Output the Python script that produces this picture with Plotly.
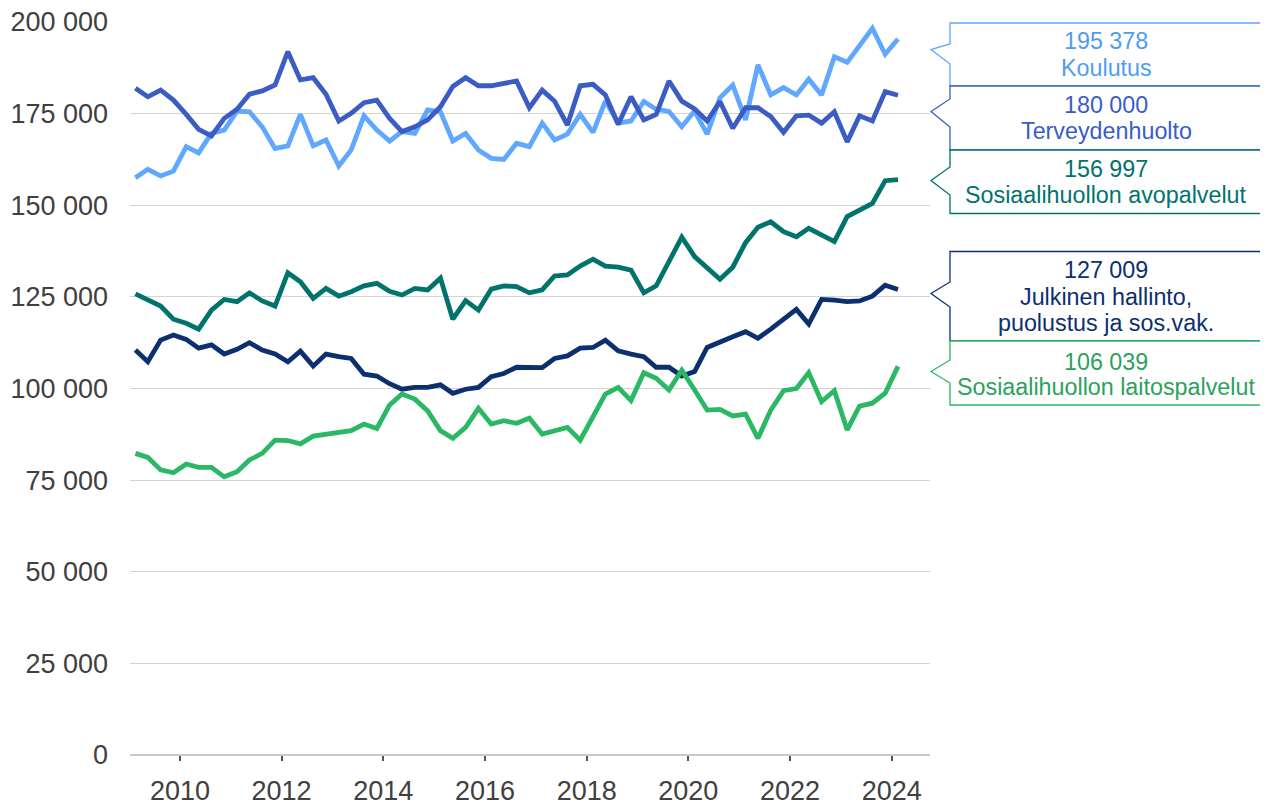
import plotly.graph_objects as go

# ---- Data (thousands of persons), quarterly 2009Q1 .. 2024Q1 ----
years = [y for y in range(2009, 2025) for _ in range(4)][:61]
quarters = [q for _ in range(2009, 2025) for q in (1, 2, 3, 4)][:61]

koulutus = [157.5, 159.8, 158.0, 159.3, 166.0, 164.3, 169.6, 170.5, 175.7, 175.5,
            171.4, 165.5, 166.2, 174.8, 166.2, 167.8, 160.7, 165.1, 174.4, 170.5,
            167.5, 170.1, 169.6, 176.0, 175.5, 167.5, 169.6, 165.1, 162.8, 162.5,
            166.9, 166.0, 172.4, 167.8, 169.4, 174.8, 169.9, 178.4, 172.4, 173.0,
            178.3, 176.2, 175.6, 171.4, 175.7, 169.4, 179.3, 182.8, 173.3, 188.3,
            180.1, 182.1, 180.1, 184.4, 180.1, 190.5, 189.0, 193.5, 198.3, 191.2,
            195.378]
terveys = [181.9, 179.6, 181.4, 178.7, 174.8, 170.7, 168.9, 173.7, 176.2, 180.3,
           181.2, 182.8, 191.9, 184.2, 184.8, 180.3, 173.0, 175.1, 178.0, 178.7,
           173.7, 170.1, 171.4, 173.3, 176.9, 182.4, 184.8, 182.6, 182.6, 183.4,
           183.9, 176.6, 181.4, 178.4, 171.9, 182.6, 183.0, 180.1, 172.1, 179.6,
           173.3, 174.8, 183.9, 178.4, 176.3, 173.0, 178.3, 171.0, 176.6, 176.6,
           174.2, 169.9, 174.4, 174.6, 172.4, 175.5, 167.3, 174.4, 173.0, 181.0,
           180.000]
avo = [125.8, 124.1, 122.5, 118.9, 117.8, 116.2, 121.4, 124.3, 123.7, 126.1,
       123.9, 122.5, 131.6, 129.1, 124.6, 127.3, 125.2, 126.4, 128.0, 128.7,
       126.5, 125.5, 127.3, 126.9, 130.1, 118.9, 124.0, 121.4, 127.1, 128.0,
       127.8, 126.1, 126.9, 130.7, 131.0, 133.4, 135.3, 133.4, 133.1, 132.3,
       126.1, 128.0, 134.4, 141.3, 136.0, 132.8, 129.8, 133.1, 139.8, 144.0,
       145.5, 142.8, 141.4, 143.7, 141.9, 140.1, 146.9, 148.7, 150.5, 156.7,
       156.997]
julkinen = [110.5, 107.3, 113.2, 114.6, 113.4, 111.0, 111.9, 109.4, 110.7, 112.5,
            110.5, 109.4, 107.3, 110.2, 106.1, 109.4, 108.7, 108.2, 103.9, 103.4,
            101.3, 99.8, 100.3, 100.3, 101.0, 98.7, 99.8, 100.3, 103.2, 104.1,
            105.8, 105.7, 105.7, 108.2, 108.9, 111.0, 111.2, 113.2, 110.3, 109.4,
            108.7, 105.8, 105.8, 103.4, 104.6, 111.2, 112.8, 114.1, 115.5, 113.7,
            116.2, 118.9, 121.6, 117.6, 124.3, 124.1, 123.7, 123.9, 125.2, 128.2,
            127.009]
laitos = [82.3, 81.2, 77.8, 77.0, 79.4, 78.5, 78.5, 75.9, 77.3, 80.5,
          82.3, 85.9, 85.8, 84.9, 87.0, 87.6, 87.9, 88.5, 90.3, 89.1,
          95.5, 98.5, 97.1, 93.9, 88.5, 86.4, 89.4, 94.6, 90.3, 91.2,
          90.5, 91.9, 87.6, 88.5, 89.4, 85.9, 92.3, 98.5, 100.3, 96.7,
          104.3, 102.8, 99.6, 105.0, 99.6, 94.1, 94.3, 92.5, 93.0, 86.4,
          94.1, 99.4, 100.0, 104.3, 96.4, 99.4, 88.7, 95.2, 96.0, 98.7,
          106.039]

series_names = ["Koulutus", "Terveydenhuolto", "Sosiaalihuollon avopalvelut",
                "Julkinen hallinto,<br>puolustus ja sos.vak.",
                "Sosiaalihuollon laitospalvelut"]
series_values = [koulutus, terveys, avo, julkinen, laitos]
line_colors = ["#60a8ff", "#3a5cc4", "#00736c", "#0c2f6e", "#2bb865"]
text_colors = ["#4f9cf2", "#3a5cc4", "#00736c", "#0c2f6e", "#2ba25c"]

y_ticks = [0, 25000, 50000, 75000, 100000, 125000, 150000, 175000, 200000]
x_tick_years = [2010, 2012, 2014, 2016, 2018, 2020, 2022, 2024]

mid_month = {1: "02", 2: "05", 3: "08", 4: "11"}
dates = [f"{y}-{mid_month[q]}-15" for y, q in zip(years, quarters)]

fig = go.Figure()
for name, vals, col in zip(series_names, series_values, line_colors):
    fig.add_trace(go.Scatter(
        x=dates, y=[v * 1000 for v in vals], mode="lines", name=name,
        line=dict(color=col, width=4.8), hoverinfo="skip"))

# ---- layout geometry ----
# page body has an 8px margin; plot area on screen: x 130..930, y 22..755
OFF = 8
W, H = 1260, 797
SL, SR, ST, SB = 130, 930, 22, 755


def px(x, y):
    return (x - SL) / (SR - SL), (SB - y) / (SB - ST)


def callout_path(top, bottom, a, tip, b, left=950, right=1263, tipx=931):
    pts = [(left, top), (left, a), (tipx, tip), (left, b), (left, bottom),
           (right, bottom), (right, top)]
    s = ""
    for i, (x, y) in enumerate(pts):
        X, Y = px(x, y)
        s += ("M" if i == 0 else " L") + f" {X:.5f},{Y:.5f}"
    return s + " Z"


boxes = [  # top, bottom, a, tip, b, text line y-centres (screen px)
    (23, 86, 44, 49.5, 64, [41, 68]),
    (86, 150, 99, 111.5, 127, [104.5, 131]),
    (150, 213.5, 167, 180.5, 195, [168.5, 195]),
    (251.5, 341, 282, 293.5, 307, [269.5, 297, 323.5]),
    (341, 405, 360, 371.5, 383, [361.5, 387]),
]

shapes = []
annotations = []
for (top, bot, a, tip, b, ys), name, vals, lc, tc in zip(
        boxes, series_names, series_values, line_colors, text_colors):
    shapes.append(dict(type="path", xref="paper", yref="paper",
                       path=callout_path(top, bot, a, tip, b),
                       fillcolor="white", line=dict(color=lc, width=1.3),
                       layer="above"))
    last = round(vals[-1] * 1000)
    lines = [f"{last:,}".replace(",", " ")] + name.split("<br>")
    for txt, yc in zip(lines, ys):
        X, Y = px(1106, yc)
        annotations.append(dict(xref="paper", yref="paper", x=X, y=Y,
                                xanchor="center", yanchor="middle",
                                text=txt, showarrow=False,
                                font=dict(size=23.3, color=tc,
                                          family="Liberation Sans, Arial, sans-serif")))

fig.update_layout(
    width=W, height=H,
    margin=dict(l=SL - OFF, r=W - (SR - OFF), t=ST - OFF, b=H - (SB - OFF), pad=0),
    paper_bgcolor="white", plot_bgcolor="white",
    showlegend=False,
    font=dict(family="Liberation Sans, Arial, sans-serif", color="#404040"),
    shapes=shapes, annotations=annotations,
    xaxis=dict(
        type="date", range=["2009-01-07", "2024-10-02"],
        tickvals=[f"{y}-01-01" for y in x_tick_years],
        ticktext=[str(y) for y in x_tick_years],
        showgrid=False, zeroline=False, automargin=False,
        showline=False, ticks="outside", ticklen=5, tickwidth=1.5,
        tickcolor="#555555", tickfont=dict(size=27, color="#404040"),
        ticklabelstandoff=7, ticklabeloverflow="allow",
    ),
    yaxis=dict(
        range=[0, 200000], tickvals=y_ticks, automargin=False,
        ticktext=[f"{v:,}".replace(",", " ") for v in y_ticks],
        showgrid=True, gridcolor="#d4d4d4", gridwidth=1,
        zeroline=True, zerolinecolor="#c8c8c8", zerolinewidth=1.5,
        showline=False, ticks="", tickfont=dict(size=27, color="#404040"),
        ticklabelstandoff=21, ticklabeloverflow="allow",
    ),
)

fig.write_html("out.html")
